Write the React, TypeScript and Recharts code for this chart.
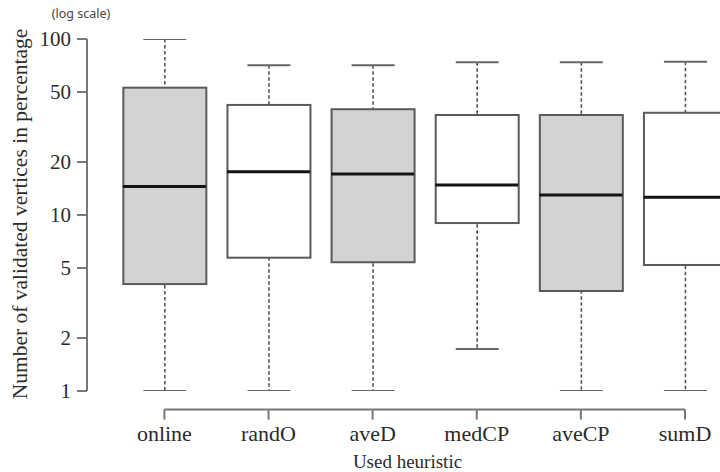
import { ComposedChart, Bar, Line, XAxis, YAxis } from "recharts";

// values
const categories = ["online", "randO", "aveD", "medCP", "aveCP", "sumD"];
const whiskerLow = [1, 1, 1, 1.73, 1, 1];
const lowerQuartile = [4.05, 5.72, 5.39, 9.0, 3.7, 5.2];
const medians = [14.5, 17.6, 17.1, 14.8, 13.0, 12.6];
const upperQuartile = [52.9, 42.2, 39.9, 37.0, 37.0, 38.1];
const whiskerHigh = [100, 71, 71, 73.7, 73.7, 74.3];
const shaded = [true, false, true, false, true, false];
const yTicks = [1, 2, 5, 10, 20, 50, 100];
const xTicks = categories.map((_, i) => i);

const W = 720;
const H = 472;
const PLOT_LEFT = 87;
const FIRST_X = 164.4;
const LAST_X = 685;
const STEP = (LAST_X - FIRST_X) / (categories.length - 1);
const BOX_W = 83;
const CAP_W = 43;

const FONT = "Liberation Serif, Times New Roman, serif";
const TEXT = "#2b2b2b";
const AXIS = "#777";

const data = categories.map((name, i) => ({
    idx: i,
    name,
    whisker: [whiskerLow[i], whiskerHigh[i]],
    box: [lowerQuartile[i], upperQuartile[i]],
    median: medians[i],
    shaded: shaded[i],
}));

function WhiskerShape(props: any) {
    const { x, y, width, height } = props;
    const cx = x + width / 2;
    const top = Math.min(y, y + height);
    const bottom = Math.max(y, y + height);
    return (
        <g>
            <line x1={cx} x2={cx} y1={top} y2={bottom} stroke="#555" strokeWidth={1.6} strokeDasharray="3.5 2.5"/>
            <line x1={cx - CAP_W / 2} x2={cx + CAP_W / 2} y1={top} y2={top} stroke="#666" strokeWidth={2}/>
            <line x1={cx - CAP_W / 2} x2={cx + CAP_W / 2} y1={bottom} y2={bottom} stroke="#666" strokeWidth={2}/>
        </g>
    );
}

function BoxShape(props: any) {
    const { x, y, width, height, payload } = props;
    const top = Math.min(y, y + height);
    return (
        <rect
            x={x}
            y={top}
            width={width}
            height={Math.abs(height)}
            fill={payload.shaded ? "#d3d3d3" : "#ffffff"}
            stroke="#5a5a5a"
            strokeWidth={2}
        />
    );
}

function XTick(props: any) {
    const { x, y, payload, index } = props;
    const axisY = y + 18.6;
    return (
        <g>
            {index < categories.length - 1 && (
                <line x1={x} x2={x + STEP} y1={axisY} y2={axisY} stroke={AXIS} strokeWidth={2}/>
            )}
            <line x1={x} x2={x} y1={axisY} y2={axisY + 10} stroke={AXIS} strokeWidth={2}/>
            <text x={x} y={axisY + 24} textAnchor="middle" dominantBaseline="central"
                  style={{ fontFamily: FONT, fontSize: 22 }} fill={TEXT}>
                {categories[payload.value]}
            </text>
        </g>
    );
}

function YTitles(props: any) {
    const vb = props.viewBox || { x: 0, y: 39, width: 87, height: 352 };
    const cy = vb.y + vb.height / 2 - 1;
    return (
        <g>
            <text x={81} y={13} textAnchor="middle" dominantBaseline="central"
                  style={{ fontFamily: "Noto Sans, sans-serif", fontSize: 12.5 }} fill="#444">
                (log scale)
            </text>
            <text x={20} y={cy} transform={`rotate(-90, 20, ${cy})`} textAnchor="middle"
                  dominantBaseline="central" style={{ fontFamily: FONT, fontSize: 21.5 }} fill={TEXT}>
                Number of validated vertices in percentage
            </text>
        </g>
    );
}

function XTitle(props: any) {
    const vb = props.viewBox || { x: 87, y: 391, width: 633, height: 81 };
    return (
        <text x={vb.x + vb.width / 2 + 4} y={461} textAnchor="middle" dominantBaseline="central"
              style={{ fontFamily: FONT, fontSize: 19 }} fill={TEXT}>
            Used heuristic
        </text>
    );
}

export default function App() {
    return (
        <div style={{ position: "absolute", left: 0, top: 0, width: W, height: H, background: "#fff" }}>
            <ComposedChart
                width={W}
                height={H}
                data={data}
                margin={{ top: 39, right: 0, bottom: 0, left: 0 }}
                barGap={-BOX_W}
            >
                <XAxis
                    dataKey="idx"
                    type="number"
                    domain={[0, categories.length - 1]}
                    ticks={xTicks}
                    padding={{ left: FIRST_X - PLOT_LEFT, right: W - LAST_X }}
                    height={H - 391}
                    axisLine={false}
                    tickLine={false}
                    tickSize={0}
                    tickMargin={0}
                    tick={<XTick/>}
                    interval={0}
                    label={{ content: (p: any) => <XTitle viewBox={p.viewBox}/> }}
                />
                <YAxis
                    type="number"
                    scale="log"
                    domain={[1, 100]}
                    ticks={yTicks}
                    allowDataOverflow
                    width={PLOT_LEFT}
                    interval={0}
                    axisLine={{ stroke: AXIS, strokeWidth: 2 }}
                    tickLine={{ stroke: AXIS, strokeWidth: 2 }}
                    tickSize={10}
                    tickMargin={6}
                    tick={{ fontFamily: FONT, fontSize: 21, fill: TEXT }}
                    label={{ content: (p: any) => <YTitles viewBox={p.viewBox}/> }}
                />
                <Bar dataKey="whisker" barSize={BOX_W} shape={<WhiskerShape/>} isAnimationActive={false}/>
                <Bar dataKey="box" barSize={BOX_W} shape={<BoxShape/>} isAnimationActive={false}/>
                <Line
                    dataKey="median"
                    stroke="none"
                    isAnimationActive={false}
                    activeDot={false}
                    dot={(p: any) => (
                        <line
                            key={`median-${p.index}`}
                            x1={p.cx - BOX_W / 2}
                            x2={p.cx + BOX_W / 2}
                            y1={p.cy}
                            y2={p.cy}
                            stroke="#141414"
                            strokeWidth={3}
                        />
                    )}
                />
            </ComposedChart>
        </div>
    );
}
